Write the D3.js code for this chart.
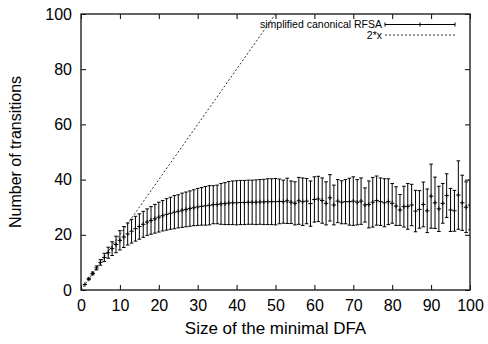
<!DOCTYPE html>
<html lang="en">
<head>
    <meta charset="UTF-8">
    <title>Number of transitions vs size of the minimal DFA</title>
    <script src="https://d3js.org/d3.v7.min.js"></script>
    <style>
        body { margin: 0; background: #fff; }
        text { font-family: "Liberation Sans", Arial, Helvetica, sans-serif; fill: #000; }
    </style>
</head>
<body>
    <svg></svg>
    <script>
        // size of the minimal DFA (x) and the measured transitions (mean +/- deviation)
        const sizes = [
            1, 2, 3, 4, 5, 6, 7, 8, 9, 10, 11, 12, 13, 14, 15, 16, 17, 18, 19, 20,
            21, 22, 23, 24, 25, 26, 27, 28, 29, 30, 31, 32, 33, 34, 35, 36, 37, 38, 39, 40,
            41, 42, 43, 44, 45, 46, 47, 48, 49, 50, 51, 52, 53, 54, 55, 56, 57, 58, 59, 60,
            61, 62, 63, 64, 65, 66, 67, 68, 69, 70, 71, 72, 73, 74, 75, 76, 77, 78, 79, 80,
            81, 82, 83, 84, 85, 86, 87, 88, 89, 90, 91, 92, 93, 94, 95, 96, 97, 98, 99, 100
        ];
        const meanTransitions = [
            2, 4, 6, 8, 10, 11.8, 13.5, 15, 16.5, 18, 19.2, 20.3, 21.3, 22.2, 23, 23.8, 24.6, 25.2, 25.8, 26.4,
            26.9, 27.4, 27.8, 28.2, 28.5, 28.9, 29.2, 29.5, 29.8, 30.1, 30.3, 30.5, 30.7, 30.9, 31.0, 31.2, 31.3, 31.5, 31.6, 31.6,
            31.7, 31.7, 31.8, 31.8, 31.8, 31.9, 31.9, 32.0, 32.0, 32.0, 32.1, 32.0, 32.3, 31.8, 31.4, 32.3, 32.0, 32.2, 31.3, 32.8,
            33.0, 32.4, 31.4, 33.4, 30.8, 32.2, 31.8, 32.0, 32.0, 32.2, 31.8, 32.2, 30.8, 31.0, 31.8, 32.4, 32.0, 31.6, 32.0, 31.4,
            30.4, 29.0, 30.2, 30.3, 30.8, 28.6, 29.2, 31.0, 28.7, 34.0, 31.6, 29.4, 31.4, 34.2, 29.0, 28.7, 34.4, 31.6, 30.0, 30.8
        ];
        const stdDev = [
            0, 0.3, 0.5, 0.7, 1, 1.5, 2, 2.5, 3, 3.5, 3.8, 4, 4.3, 4.5, 4.6, 4.7, 4.8, 5, 5.2, 5.4,
            5.5, 5.7, 5.8, 6, 6, 6.2, 6.3, 6.4, 6.5, 6.7, 6.8, 7, 7.1, 6.9, 7.0, 7.4, 7.6, 7.8, 7.9, 8.0,
            8.0, 8.0, 8.0, 8.0, 8.1, 8.1, 8.2, 8.3, 8.3, 8.4, 8.1, 7.8, 8.2, 7.7, 7.8, 8.5, 8.6, 8.2, 8.2, 8.2,
            8.2, 8.2, 7.8, 8.4, 7.2, 7.8, 7.8, 8.0, 8.5, 8.8, 8.2, 8.4, 6.2, 8.5, 9.0, 8.9, 8.6, 8.7, 8.3, 7.2,
            7.0, 5.6, 7.4, 8.3, 7.5, 7.5, 6.8, 8.1, 7.9, 11.6, 9.3, 8.2, 7.2, 7.9, 7.8, 7.4, 12.4, 10.0, 9.2, 9.0
        ];
        // reference line 2*x
        const refX = [0, 50];
        const refY = [0, 100];

        const xTicks = [0, 10, 20, 30, 40, 50, 60, 70, 80, 90, 100];
        const yTicks = [0, 20, 40, 60, 80, 100];

        const W = 488, H = 344;
        const margin = { top: 14, right: 18, bottom: 54, left: 81 };
        const width = W - margin.left - margin.right;
        const height = H - margin.top - margin.bottom;

        const data = sizes.map((s, i) => ({ x: s, y: meanTransitions[i], e: stdDev[i] }));

        const x = d3.scaleLinear().domain([0, 100]).range([0, width]);
        const y = d3.scaleLinear().domain([0, 100]).range([height, 0]);

        const svg = d3.select("svg")
            .attr("width", W)
            .attr("height", H)
            .append("g")
            .attr("transform", `translate(${margin.left},${margin.top})`);

        svg.append("defs").append("clipPath").attr("id", "plot")
            .append("rect").attr("width", width).attr("height", height);

        // axes: gnuplot style, ticks inward and mirrored
        const tickLen = 5;
        svg.append("g")
            .attr("transform", `translate(0,${height})`)
            .call(d3.axisBottom(x).tickValues(xTicks).tickSizeInner(-tickLen).tickSizeOuter(0).tickPadding(10))
            .call(g => g.select(".domain").remove())
            .call(g => g.selectAll("text").style("font-size", "16px"));
        svg.append("g")
            .call(d3.axisTop(x).tickValues(xTicks).tickSizeInner(-tickLen).tickSizeOuter(0).tickFormat(""))
            .call(g => g.select(".domain").remove());
        svg.append("g")
            .call(d3.axisLeft(y).tickValues(yTicks).tickSizeInner(-tickLen).tickSizeOuter(0).tickPadding(9))
            .call(g => g.select(".domain").remove())
            .call(g => g.selectAll("text").style("font-size", "16px"));
        svg.append("g")
            .attr("transform", `translate(${width},0)`)
            .call(d3.axisRight(y).tickValues(yTicks).tickSizeInner(-tickLen).tickSizeOuter(0).tickFormat(""))
            .call(g => g.select(".domain").remove());

        const plot = svg.append("g").attr("clip-path", "url(#plot)");

        // 2*x dashed line
        const line = d3.line().x(d => x(d[0])).y(d => y(d[1]));
        plot.append("path")
            .datum(refX.map((v, i) => [v, refY[i]]))
            .attr("d", line)
            .attr("fill", "none")
            .attr("stroke", "#000")
            .attr("stroke-width", 0.8)
            .attr("stroke-dasharray", "2,2");

        // error bars
        const cap = 1.8;
        const bars = plot.selectAll(".bar").data(data).enter().append("g")
            .attr("stroke", "#000").attr("stroke-width", 1);
        bars.append("line")
            .attr("x1", d => x(d.x)).attr("x2", d => x(d.x))
            .attr("y1", d => y(d.y - d.e)).attr("y2", d => y(d.y + d.e));
        bars.append("line")
            .attr("x1", d => x(d.x) - cap).attr("x2", d => x(d.x) + cap)
            .attr("y1", d => y(d.y + d.e)).attr("y2", d => y(d.y + d.e));
        bars.append("line")
            .attr("x1", d => x(d.x) - cap).attr("x2", d => x(d.x) + cap)
            .attr("y1", d => y(d.y - d.e)).attr("y2", d => y(d.y - d.e));
        // plus markers at the mean
        bars.append("line")
            .attr("x1", d => x(d.x) - 2.2).attr("x2", d => x(d.x) + 2.2)
            .attr("y1", d => y(d.y)).attr("y2", d => y(d.y));
        bars.append("line")
            .attr("x1", d => x(d.x)).attr("x2", d => x(d.x))
            .attr("y1", d => y(d.y) - 2.2).attr("y2", d => y(d.y) + 2.2);

        // frame
        svg.append("rect")
            .attr("width", width).attr("height", height)
            .attr("fill", "none").attr("stroke", "#222").attr("stroke-width", 1.4);

        // legend
        const legend = svg.append("g").attr("transform", `translate(${width - 15},0)`);
        const row1 = 10.5, row2 = 21, sx0 = -70, sx1 = 0;
        legend.append("text").attr("x", sx0 - 3).attr("y", row1).attr("dy", "0.35em")
            .attr("text-anchor", "end").style("font-size", "10.5px").text("simplified canonical RFSA");
        legend.append("text").attr("x", sx0 - 3).attr("y", row2).attr("dy", "0.35em")
            .attr("text-anchor", "end").style("font-size", "10.5px").text("2*x");
        const key = legend.append("g").attr("stroke", "#000").attr("stroke-width", 1);
        key.append("line").attr("x1", sx0).attr("x2", sx1).attr("y1", row1).attr("y2", row1);
        key.append("line").attr("x1", sx0).attr("x2", sx0).attr("y1", row1 - 2).attr("y2", row1 + 2);
        key.append("line").attr("x1", sx1).attr("x2", sx1).attr("y1", row1 - 2).attr("y2", row1 + 2);
        key.append("line").attr("x1", (sx0 + sx1) / 2).attr("x2", (sx0 + sx1) / 2).attr("y1", row1 - 2).attr("y2", row1 + 2);
        key.append("line").attr("x1", sx0).attr("x2", sx1).attr("y1", row2).attr("y2", row2)
            .attr("stroke-width", 0.8).attr("stroke-dasharray", "2,2");

        // axis titles
        svg.append("text")
            .attr("x", width / 2).attr("y", height + 44)
            .attr("text-anchor", "middle").style("font-size", "17px")
            .text("Size of the minimal DFA");
        svg.append("text")
            .attr("transform", `translate(${-60},${height / 2}) rotate(-90)`)
            .attr("text-anchor", "middle").style("font-size", "16px")
            .text("Number of transitions");
    </script>
</body>
</html>
